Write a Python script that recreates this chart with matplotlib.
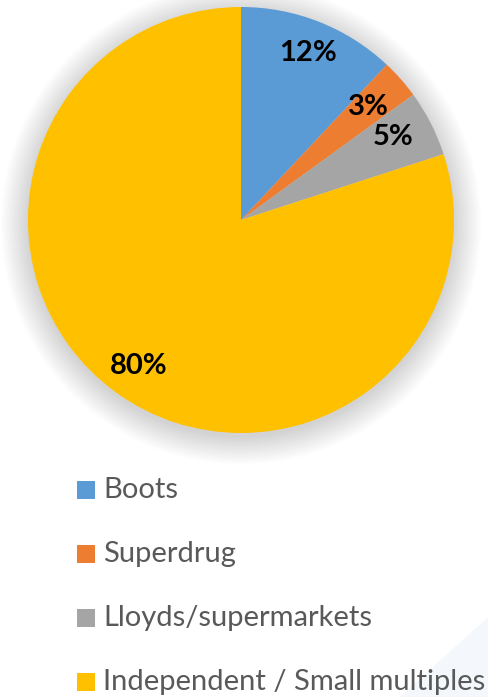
import matplotlib.pyplot as plt
from matplotlib.patches import Circle, Rectangle, Polygon

labels = ['Boots', 'Superdrug', 'Lloyds/supermarkets', 'Independent / Small multiples']
shares = [12, 3, 5, 80]
colors = ['#5B9BD5', '#ED7D31', '#A5A5A5', '#FFC000']

W, H = 488, 697
fig = plt.figure(figsize=(W / 100, H / 100), dpi=100)
ax = fig.add_axes([0, 0, 1, 1])

# faint background decoration bottom-right
ax.add_patch(Polygon([[400, 0], [488, 0], [488, 80]], closed=True,
                     facecolor='#f4f7fb', edgecolor='none', zorder=0))

cx, cy, r = 241, H - 220, 213

# soft shadow
for i in range(22):
    ax.add_patch(Circle((cx, cy - 4), r + 1.3 * i, facecolor='black',
                        edgecolor='none', alpha=0.0065, zorder=1))

wedges, _ = ax.pie(shares, colors=colors, startangle=90, counterclock=False,
                   center=(cx, cy), radius=r, frame=True,
                   wedgeprops=dict(linewidth=0))
for w in wedges:
    w.set_zorder(3)
ax.set_xlim(0, W)
ax.set_ylim(0, H)
ax.set_aspect('equal')
ax.axis('off')

# percentage labels
label_pos = [(308, 53), (368, 107), (393, 137), (139, 366)]
for s, (x, y) in zip(shares, label_pos):
    ax.text(x, H - y, f'{s}%', ha='center', va='center', fontsize=21,
            fontweight='bold', family='Lato', color='black', zorder=5)

# legend
for i, (lab, col) in enumerate(zip(labels, colors)):
    yc = H - (490 + 64 * i)
    ax.add_patch(Rectangle((77, yc - 9), 18, 18, facecolor=col,
                           edgecolor='none', zorder=4))
    ax.text(103, yc, lab, ha='left', va='center', fontsize=21,
            family='Lato', color='#595959', zorder=5, clip_on=False)

fig.savefig('out.png', dpi=100)
